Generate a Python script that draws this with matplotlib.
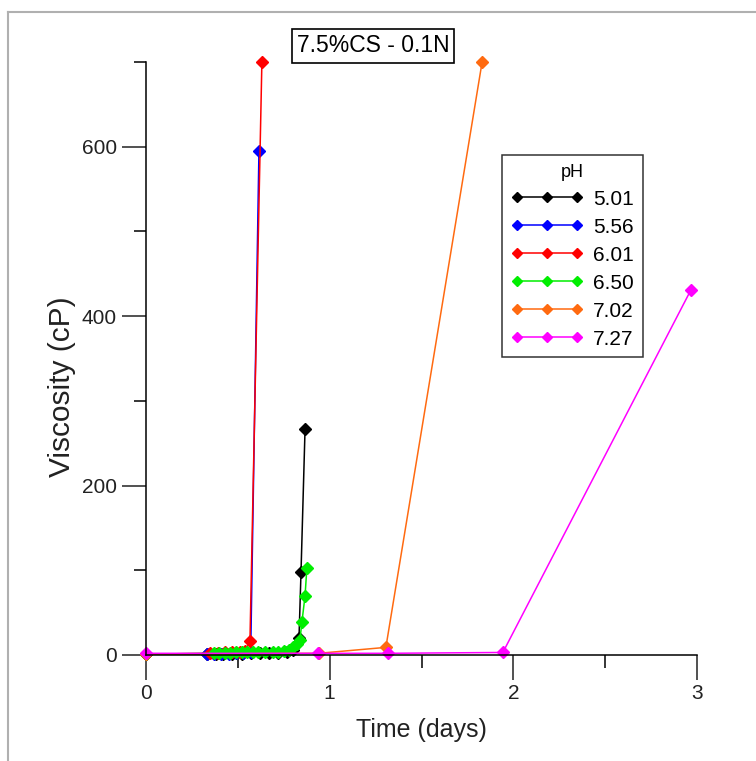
import matplotlib
matplotlib.use("Agg")
import matplotlib.pyplot as plt
from matplotlib.lines import Line2D
from matplotlib.ticker import MultipleLocator

plt.rcParams['font.family'] = ['Liberation Sans', 'DejaVu Sans']

# ---- data (time in days, viscosity in cP) ----
ph_labels = ["5.01", "5.56", "6.01", "6.50", "7.02", "7.27"]
colors = ["#000000", "#0000ff", "#ff0000", "#00ee00", "#ff6a10", "#ff00ff"]

t_501 = [0.00, 0.33, 0.38, 0.42, 0.47, 0.52, 0.57, 0.62, 0.67, 0.72, 0.77, 0.80, 0.833, 0.844, 0.866]
v_501 = [1, 1, 1, 1, 1, 1, 2, 2, 2, 2, 3, 6, 20, 98, 267]

t_556 = [0.00, 0.33, 0.37, 0.41, 0.45, 0.49, 0.53, 0.57, 0.615]
v_556 = [1, 1, 1, 1, 1, 2, 2, 3, 595]

t_601 = [0.00, 0.35, 0.39, 0.43, 0.47, 0.51, 0.54, 0.566, 0.631]
v_601 = [1, 2, 2, 3, 3, 4, 5, 16, 700]

t_650 = [0.00, 0.37, 0.40, 0.43, 0.46, 0.49, 0.52, 0.55, 0.58, 0.61, 0.65, 0.69, 0.72, 0.75, 0.78,
         0.80, 0.82, 0.838, 0.849, 0.866, 0.876]
v_650 = [1, 2, 2, 2, 2, 3, 3, 3, 3, 3, 3, 4, 4, 5, 6, 9, 13, 18, 39, 70, 103]

t_702 = [0.00, 0.94, 1.306, 1.83]
v_702 = [1, 2, 9, 700]

t_727 = [0.00, 0.936, 1.318, 1.943, 2.967]
v_727 = [2, 2, 2, 3, 431]

series = [(t_501, v_501), (t_556, v_556), (t_601, v_601), (t_650, v_650), (t_702, v_702), (t_727, v_727)]

fig = plt.figure(figsize=(7.56, 7.61), dpi=100)
ax = fig.add_axes([146/756, 1-655/761, (697-146)/756, (655-62)/761])

for (t, v), c in zip(series, colors):
    ax.plot(t, v, color=c, lw=1.1, marker='D', ms=5.8, mec=c, mfc=c, clip_on=False)

ax.set_xlim(0, 3)
ax.set_ylim(0, 700)
ax.xaxis.set_major_locator(MultipleLocator(1))
ax.xaxis.set_minor_locator(MultipleLocator(0.5))
ax.yaxis.set_major_locator(MultipleLocator(200))
ax.yaxis.set_minor_locator(MultipleLocator(100))
for s in ['top', 'right']:
    ax.spines[s].set_visible(False)
for s in ['left', 'bottom']:
    ax.spines[s].set_linewidth(1.1)
ax.tick_params(axis='x', which='major', length=18, width=1.1, direction='out', labelsize=15, pad=3, colors='#222222')
ax.tick_params(axis='x', which='minor', length=9, width=1.1, direction='out')
ax.tick_params(axis='y', which='major', length=17, width=1.1, direction='out', labelsize=15, pad=4, colors='#222222')
ax.tick_params(axis='y', which='minor', length=9, width=1.1, direction='out')
ax.set_xlabel("Time (days)", fontsize=18, color='#222222', labelpad=11)
ax.set_ylabel("Viscosity (cP)", fontsize=21.5, color='#222222')
ax.yaxis.set_label_coords(-0.127, 0.452)

# title box
fig.text(373/756, 1-46/761, "7.5%CS - 0.1N", ha='center', va='center', fontsize=16.5,
         bbox=dict(boxstyle='square,pad=0.22', fc='white', ec='black', lw=1.2))

# legend
handles = [Line2D([0], [0], color=c, lw=1.1, marker='D', ms=4.8) for c in colors]
leg = ax.legend(handles, ph_labels, title="pH", loc='upper left',
                bbox_to_anchor=(502/756, 1-155/761), bbox_transform=fig.transFigure,
                frameon=True, fancybox=False, edgecolor='black', fontsize=15, title_fontsize=13,
                numpoints=3, handlelength=3.5, handletextpad=0.45, labelspacing=0.43,
                borderpad=0.42, borderaxespad=0)
leg.get_frame().set_linewidth(1.1)

# outer frame of the screenshot
fig.add_artist(Line2D([8/756, 1.0], [1-12/761, 1-12/761], transform=fig.transFigure, color='#b0b0b0', lw=1.5))
fig.add_artist(Line2D([8/756, 8/756], [0, 1-12/761], transform=fig.transFigure, color='#b0b0b0', lw=1.5))

fig.savefig("out.png", dpi=100)
